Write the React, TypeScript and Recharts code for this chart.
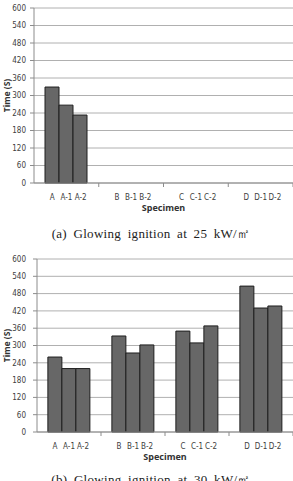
import { BarChart, Bar, XAxis, YAxis, CartesianGrid } from "recharts";

const categories = ["A", "B", "C", "D"];
const suffixes = ["", "-1", "-2"];
const yTicks = [0, 60, 120, 180, 240, 300, 360, 420, 480, 540, 600];

// (a) 25 kW/㎡ - only the A specimens ignited
const base25 = [329, null, null, null];
const first25 = [267, null, null, null];
const second25 = [233, null, null, null];

// (b) 30 kW/㎡
const base30 = [260, 333, 350, 506];
const first30 = [220, 274, 309, 430];
const second30 = [220, 302, 368, 437];

const GAP = 0.17;
const TOP = 8;
const tickFont = '"Liberation Sans Narrow", "DejaVu Sans Condensed", sans-serif';
const titleFont = '"Noto Sans", sans-serif';
const axisGrey = "#8c8c8c";

function SpecimenTick(props: any) {
  const { x, y, payload } = props;
  const half = payload?.offset ?? 32;
  const step = (half * 2 * (1 - 2 * GAP)) / 3;
  return (
    <g>
      <line x1={x + half} x2={x + half} y1={y} y2={y + 4} stroke={axisGrey} />
      {suffixes.map((s, i) => (
        <text
          key={s}
          x={x + (i - 1) * step}
          y={y + 17}
          textAnchor="middle"
          fontSize={8}
          fill="#404040"
          fontFamily={tickFont}
        >
          {payload.value + s}
        </text>
      ))}
    </g>
  );
}

function SpecimenTitle(props: any) {
  const { viewBox } = props;
  return (
    <text
      x={viewBox.x + viewBox.width / 2}
      y={viewBox.y + 28}
      textAnchor="middle"
      fontSize={9}
      fontWeight={700}
      fill="#333"
      fontFamily={titleFont}
    >
      Specimen
    </text>
  );
}

function TimeTitle({ cy }: { cy: number }) {
  return (
    <text
      x={6}
      y={cy}
      transform={`rotate(-90, 6, ${cy})`}
      textAnchor="middle"
      dominantBaseline="central"
      fontSize={8.5}
      fontWeight={700}
      fill="#333"
      fontFamily={titleFont}
    >
      Time (S)
    </text>
  );
}

type PanelProps = {
  base: (number | null)[];
  first: (number | null)[];
  second: (number | null)[];
  axisWidth: number;
  plotHeight: number;
};

function Panel({ base, first, second, axisWidth, plotHeight }: PanelProps) {
  const data = categories.map((name, i) => ({
    name,
    base: base[i],
    first: first[i],
    second: second[i],
  }));

  return (
    <div style={{ position: "relative" }}>
      <BarChart
        width={293}
        height={plotHeight + TOP + 34}
        data={data}
        margin={{ top: TOP, right: 0, bottom: 4, left: 0 }}
        barCategoryGap={`${GAP * 100}%`}
        barGap={0}
      >
        <CartesianGrid vertical={false} stroke="#b0b0b0" />
        <XAxis
          dataKey="name"
          height={30}
          interval={0}
          tickLine={false}
          tickSize={0}
          tickMargin={0}
          tick={<SpecimenTick />}
          axisLine={{ stroke: axisGrey }}
          label={<SpecimenTitle />}
        />
        <YAxis
          width={axisWidth}
          domain={[0, 600]}
          ticks={yTicks}
          interval={0}
          tickSize={4}
          tickMargin={axisWidth - 30}
          tick={{ fontSize: 8, fill: "#404040", fontFamily: tickFont }}
          tickLine={{ stroke: axisGrey }}
          axisLine={{ stroke: axisGrey }}
        />
        {["base", "first", "second"].map((key) => (
          <Bar
            key={key}
            dataKey={key}
            fill="#676767"
            stroke="#1e1e1e"
            strokeWidth={1}
            isAnimationActive={false}
          />
        ))}
      </BarChart>
      <svg
        width={14}
        height={plotHeight + TOP}
        style={{ position: "absolute", left: 0, top: 0 }}
      >
        <TimeTitle cy={TOP + plotHeight / 2} />
      </svg>
    </div>
  );
}

const caption: React.CSSProperties = {
  position: "absolute",
  left: 0,
  width: 302,
  textAlign: "center",
  fontFamily: '"Liberation Serif", "DejaVu Serif", serif',
  fontSize: 13,
  lineHeight: "15px",
  wordSpacing: 3,
  letterSpacing: 0.3,
  color: "#222",
  whiteSpace: "nowrap",
};

export default function App() {
  return (
    <div
      style={{
        position: "absolute",
        left: 0,
        top: 0,
        width: 293,
        height: 481,
        overflow: "hidden",
        background: "#fff",
      }}
    >
      <div style={{ position: "absolute", left: 0, top: 0 }}>
        <Panel base={base25} first={first25} second={second25} axisWidth={34} plotHeight={175} />
      </div>
      <div style={{ ...caption, top: 226 }}>(a) Glowing ignition at 25 kW/㎡</div>
      <div style={{ position: "absolute", left: 0, top: 251 }}>
        <Panel base={base30} first={first30} second={second30} axisWidth={37} plotHeight={173} />
      </div>
      <div style={{ ...caption, top: 472 }}>(b) Glowing ignition at 30 kW/㎡</div>
    </div>
  );
}
